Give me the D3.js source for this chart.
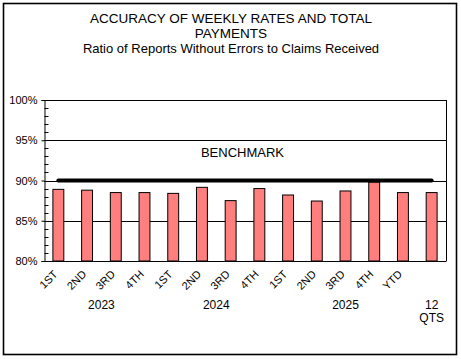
<!DOCTYPE html>
<html><head><meta charset="utf-8">
<script src="https://cdn.jsdelivr.net/npm/d3@7"></script>
<style>
html,body{margin:0;padding:0;background:#fff;}
svg{display:block;font-family:Arial,"Liberation Sans",sans-serif;}
</style></head>
<body>
<svg id="chart" width="461" height="359"></svg>
<script>
const quarters = ["1ST","2ND","3RD","4TH","1ST","2ND","3RD","4TH","1ST","2ND","3RD","4TH","YTD",""];
const values = [88.9,88.8,88.5,88.5,88.4,89.15,87.5,89.0,88.2,87.45,88.7,89.8,88.5,88.5];
const benchmark = 90;
const benchmarkLabel = "BENCHMARK";
const yearLabels = ["2023","2024","2025"];
const yearStart = [0,4,8];
const yearEnd = [3,7,12];
const lastLabel = ["12","QTS"];
const yTicks = [80,85,90,95,100];
const titleLines = ["ACCURACY OF WEEKLY RATES AND TOTAL","PAYMENTS","Ratio of Reports Without Errors to Claims Received"];

const svg = d3.select("#chart");
const L = 44, R = 446, T = 100, B = 261;

svg.append("rect").attr("x",3.5).attr("y",3.5).attr("width",453).attr("height",351)
  .attr("fill","none").attr("stroke","#000").attr("stroke-width",1.6);

const tY = [23,38,53];
const tS = [13.5,13.5,13];
titleLines.forEach((t,i)=>{
  svg.append("text").attr("x",231).attr("y",tY[i]).attr("text-anchor","middle")
    .attr("font-size",tS[i]).attr("fill","#000").text(t);
});

const x = d3.scaleBand().domain(d3.range(values.length)).range([L,R]).paddingInner(0.62).paddingOuter(0.31);
const y = d3.scaleLinear().domain([80,100]).range([B,T]);

// gridlines
svg.append("g").selectAll("line").data(yTicks.filter(v=>v>80)).join("line")
  .attr("x1",L).attr("x2",R).attr("y1",d=>Math.round(y(d))+0.5).attr("y2",d=>Math.round(y(d))+0.5)
  .attr("stroke","#000").attr("stroke-width",1);
// right border
svg.append("line").attr("x1",R+0.5).attr("x2",R+0.5).attr("y1",y(100)).attr("y2",y(80)).attr("stroke","#000");

// bars
svg.append("g").selectAll("rect").data(values).join("rect")
  .attr("x",(d,i)=>x(i)).attr("width",x.bandwidth())
  .attr("y",d=>y(d)).attr("height",d=>y(80)-y(d))
  .attr("fill","#FF7F7F").attr("stroke","#000").attr("stroke-width",1);

// benchmark line
svg.append("line")
  .attr("x1",x(0)+x.bandwidth()/2).attr("x2",x(values.length-1)+x.bandwidth()/2)
  .attr("y1",y(benchmark)).attr("y2",y(benchmark))
  .attr("stroke","#000").attr("stroke-width",4).attr("stroke-linecap","round");
svg.append("text").attr("x",242.5).attr("y",157).attr("text-anchor","middle")
  .attr("font-size",13).attr("fill","#000").text(benchmarkLabel);

// y axis
const yAxis = d3.axisLeft(y).tickValues(yTicks).tickFormat(d=>d+"%").tickSize(3).tickPadding(4);
const gy = svg.append("g").attr("transform",`translate(${L+0.5},0)`).call(yAxis);
gy.selectAll("text").attr("font-size",11).attr("fill","#000").attr("font-family","Arial,'Liberation Sans',sans-serif");
gy.selectAll("line,path").attr("stroke","#000");
// minor ticks (inside)
const minor = d3.range(81,100).filter(v=>v%5!==0);
gy.append("g").selectAll("line").data(minor).join("line")
  .attr("x1",0).attr("x2",4).attr("y1",d=>Math.round(y(d))+0.5).attr("y2",d=>Math.round(y(d))+0.5)
  .attr("stroke","#000");

// x axis
svg.append("line").attr("x1",L).attr("x2",R+0.5).attr("y1",B+0.5).attr("y2",B+0.5).attr("stroke","#000");
svg.append("g").selectAll("text").data(quarters).join("text")
  .attr("transform",(d,i)=>`translate(${x(i)+x.bandwidth()/2},${B+14}) rotate(-45)`)
  .attr("text-anchor","end").attr("font-size",11).attr("fill","#000").text(d=>d);

yearLabels.forEach((t,i)=>{
  const cx = (x(yearStart[i]) + x(yearEnd[i]) + x.bandwidth())/2;
  svg.append("text").attr("x",cx).attr("y",309).attr("text-anchor","middle")
    .attr("font-size",12).attr("fill","#000").text(t);
});
const lx = x(values.length-1)+x.bandwidth()/2;
lastLabel.forEach((t,i)=>{
  svg.append("text").attr("x",lx).attr("y",309+i*12.5).attr("text-anchor","middle")
    .attr("font-size",12).attr("fill","#000").text(t);
});
</script>
</body></html>
